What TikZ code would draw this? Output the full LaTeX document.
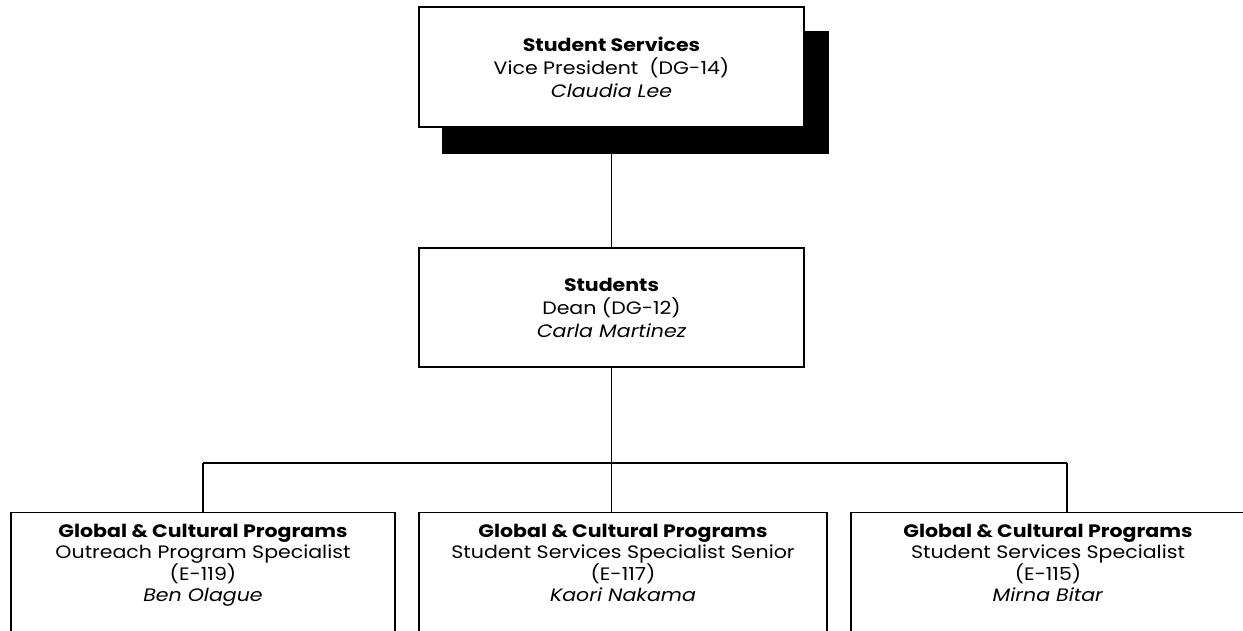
\documentclass[tikz,border=0pt]{standalone}
\usepackage{fontspec}
\setmainfont{Poppins}[FakeStretch=1.14]
\begin{document}
\begin{tikzpicture}[x=1pt,y=-1pt,
  box/.style={draw=black,line width=1.4pt,fill=white,inner sep=0pt},
  shadowbox/.style={fill=black,draw=black,inner sep=0pt},
  txt/.style={align=center,inner sep=0pt,font=\fontsize{18}{23}\selectfont},
  btxt/.style={align=center,inner sep=0pt,font=\fontsize{18}{20.5}\selectfont},
  conn/.style={line width=1.3pt}]
\useasboundingbox (0,0) rectangle (1243,631);
\clip (0,0) rectangle (1243,631);
% top
\node[shadowbox,minimum width=386pt,minimum height=122pt] (sh) at (635,92) {};
\node[box,minimum width=385pt,minimum height=120pt] (top) at (611.5,67) {};
\node[txt] (toptxt) at (top.center) {\textbf{Student Services}\\Vice President~~(DG-14)\\\textit{Claudia Lee}};
% middle
\node[box,minimum width=385pt,minimum height=119pt] (mid) at (611.5,307.5) {};
\node[txt] (midtxt) at (mid.center) {\textbf{Students}\\Dean (DG-12)\\\textit{Carla Martinez}};
% bottom
\node[box,minimum width=384pt,minimum height=150pt,anchor=north] (b1) at (203,512) {};
\node[box,minimum width=408pt,minimum height=150pt,anchor=north] (b2) at (623,512) {};
\node[box,minimum width=394pt,minimum height=150pt,anchor=north] (b3) at (1048,512) {};
\node[btxt,anchor=north] (b1txt) at ([yshift=-12pt]b1.north) {\textbf{Global \& Cultural Programs}\\Outreach Program Specialist\\(E-119)\\\textit{Ben Olague}};
\node[btxt,anchor=north] (b2txt) at ([yshift=-12pt]b2.north) {\textbf{Global \& Cultural Programs}\\Student Services Specialist Senior\\(E-117)\\\textit{Kaori Nakama}};
\node[btxt,anchor=north] (b3txt) at ([yshift=-12pt]b3.north) {\textbf{Global \& Cultural Programs}\\Student Services Specialist\\(E-115)\\\textit{Mirna Bitar}};
% connectors
\coordinate (bus) at (611.5,463);
\coordinate (busl) at (203,463);
\coordinate (busr) at (1067,463);
\draw[conn] (sh.south -| top.south) -- (mid.north);
\draw[conn] (mid.south) -- (bus);
\draw[conn] (busl) -- (busr);
\draw[conn] (busl) -- (busl |- b1.north);
\draw[conn] (bus) -- (bus |- b2.north);
\draw[conn] (busr) -- (busr |- b3.north);
\end{tikzpicture}
\end{document}
